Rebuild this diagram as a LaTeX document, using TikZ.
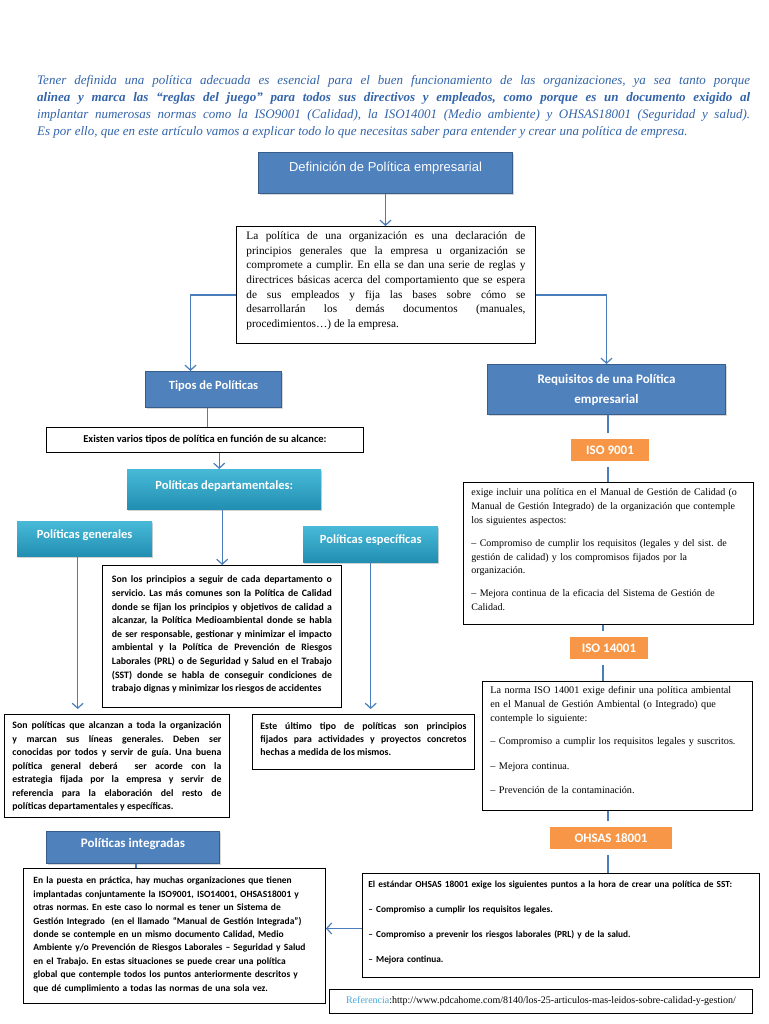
\documentclass[tikz,border=0pt]{standalone}
\usepackage{fontspec}
\setmainfont{Liberation Serif}
\newfontfamily\calibri{Carlito}
\newfontfamily\arialf{Liberation Sans}
\usetikzlibrary{arrows.meta,shadows}
\frenchspacing

\definecolor{azulfondo}{RGB}{79,129,189}
\definecolor{azulborde}{RGB}{56,93,138}
\definecolor{azullinea}{RGB}{74,126,187}
\definecolor{azultexto}{RGB}{50,100,170}
\definecolor{cianclaro}{RGB}{72,186,216}
\definecolor{cianoscuro}{RGB}{33,142,178}
\definecolor{naranja}{RGB}{247,150,70}
\definecolor{cianref}{RGB}{70,170,220}

\tikzset{
  cajaazul/.style={draw=azulborde, fill=azulfondo, line width=1pt, text=white,
    inner sep=0pt, anchor=north west,
    drop shadow={opacity=0.3, shadow xshift=1.5pt, shadow yshift=-1.5pt}},
  cajacian/.style={top color=cianclaro, bottom color=cianoscuro, text=white,
    inner sep=0pt, anchor=north west,
    drop shadow={opacity=0.35, shadow xshift=1pt, shadow yshift=-2pt}},
  cajanaranja/.style={fill=naranja, draw=white, line width=6pt, text=white,
    inner sep=0pt, minimum height=28pt,
    font=\calibri\bfseries\fontsize{13}{15}\selectfont,
    drop shadow={opacity=0.3, shadow xshift=1pt, shadow yshift=-2pt}},
  cajatexto/.style={draw=black, fill=white, line width=0.9pt, anchor=north west,
    inner ysep=0pt},
  enlace/.style={draw=azullinea, line width=1.2pt},
  flecha/.style={enlace, -{Straight Barb[length=5pt,width=11pt,line width=1.2pt]}},
}

\begin{document}
\begin{tikzpicture}[x=1pt,y=-1pt]
    % Fond et cadre
    \fill[white] (0,0) rectangle (768,1024);
    \useasboundingbox (0,0) rectangle (768,1024);

    % Introduction
    \node[anchor=north west, inner sep=0pt, text width=713pt, text height=14pt,
      align=justify, text=azultexto, font=\itshape\fontsize{13}{17}\selectfont]
      (intro) at (37,70) {Tener definida una política adecuada es esencial para el buen funcionamiento de las organizaciones, ya sea tanto porque\linebreak
      {\bfseries alinea y marca las “reglas del juego” para todos sus directivos y empleados, como porque es un documento exigido al}\linebreak
      implantar numerosas normas como la ISO9001 (Calidad), la ISO14001 (Medio ambiente) y OHSAS18001 (Seguridad y salud).\linebreak
      Es por ello, que en este artículo vamos a explicar todo lo que necesitas saber para entender y crear una política de empresa.};

    % Définition
    \node[cajaazul, minimum width=254pt, text height=19pt, text depth=22pt,
      font=\arialf\fontsize{13}{15}\selectfont] (titulo) at (258,152)
      {Definición de Política empresarial};
    \node[cajatexto, inner xsep=10pt, text width=279pt, text height=13pt,
      text depth=104pt, align=justify, font=\fontsize{11.3}{14.7}\selectfont]
      (definicion) at (236,226) {La política de una organización es una declaración de\linebreak
      principios generales que la empresa u organización se\linebreak
      compromete a cumplir. En ella se dan una serie de reglas y\linebreak
      directrices básicas acerca del comportamiento que se espera\linebreak
      de sus empleados y fija las bases sobre cómo se\linebreak
      desarrollarán los demás documentos (manuales,\linebreak
      procedimientos…) de la empresa.};

    % Colonne de gauche
    \node[cajaazul, minimum width=136pt, text height=18pt, text depth=18pt,
      font=\calibri\bfseries\fontsize{12.5}{15}\selectfont] (tipos) at (145,371)
      {Tipos de Políticas};
    \node[cajatexto, inner xsep=0pt, minimum width=317pt, minimum height=25pt,
      font=\calibri\bfseries\fontsize{10.5}{12}\selectfont] (existen) at (46,427)
      {Existen varios tipos de política en función de su alcance:};
    \node[cajacian, minimum width=194pt, text height=20pt, text depth=20pt,
      font=\calibri\bfseries\fontsize{12.5}{15}\selectfont] (depto) at (127,469)
      {Políticas departamentales:};
    \node[cajacian, minimum width=135pt, text height=17pt, text depth=18pt,
      font=\calibri\bfseries\fontsize{12.5}{15}\selectfont] (generales) at (17,521)
      {Políticas generales};
    \node[cajacian, minimum width=135pt, text height=17pt, text depth=19pt,
      font=\calibri\bfseries\fontsize{12.5}{15}\selectfont] (especificas) at (303,526)
      {Políticas específicas};

    \node[cajatexto, inner xsep=9.5pt, text width=220pt, text height=17.5pt,
      text depth=124.5pt, align=justify, font=\calibri\bfseries\fontsize{9.8}{13.6}\selectfont]
      (deptotxt) at (102,565) {Son los principios a seguir de cada departamento o\linebreak
      servicio. Las más comunes son la Política de Calidad\linebreak
      donde se fijan los principios y objetivos de calidad a\linebreak
      alcanzar, la Política Medioambiental donde se habla\linebreak
      de ser responsable, gestionar y minimizar el impacto\linebreak
      ambiental y la Política de Prevención de Riesgos\linebreak
      Laborales (PRL) o de Seguridad y Salud en el Trabajo\linebreak
      (SST) donde se habla de conseguir condiciones de\linebreak
      trabajo dignas y minimizar los riesgos de accidentes};
    \node[cajatexto, inner xsep=8pt, text width=209pt, text height=14.5pt,
      text depth=88.5pt, align=justify, font=\calibri\bfseries\fontsize{9.8}{13.5}\selectfont]
      (generalestxt) at (4,714) {Son políticas que alcanzan a toda la organización\linebreak
      y marcan sus líneas generales. Deben ser\linebreak
      conocidas por todos y servir de guía. Una buena\linebreak
      política general deberá \ ser acorde con la\linebreak
      estrategia fijada por la empresa y servir de\linebreak
      referencia para la elaboración del resto de\linebreak
      políticas departamentales y específicas.};
    \node[cajatexto, inner xsep=8pt, text width=206pt, text height=15.5pt,
      text depth=39.5pt, align=justify, font=\calibri\bfseries\fontsize{9.8}{13}\selectfont]
      (especificastxt) at (252,714) {Este último tipo de políticas son principios\linebreak
      fijados para actividades y proyectos concretos\linebreak
      hechas a medida de los mismos.};

    \node[cajaazul, minimum width=173pt, text height=16pt, text depth=16pt,
      font=\calibri\bfseries\fontsize{13}{15}\selectfont] (integradas) at (46,831)
      {Políticas integradas};
    \node[cajatexto, inner xsep=10pt, text width=282pt, text height=15.5pt,
      text depth=119.5pt, align=left, font=\calibri\bfseries\fontsize{9.5}{13.4}\selectfont]
      (integradastxt) at (23,868) {En la puesta en práctica, hay muchas organizaciones que tienen\\
      implantadas conjuntamente la ISO9001, ISO14001, OHSAS18001 y\\
      otras normas. En este caso lo normal es tener un Sistema de\\
      Gestión Integrado \ (en el llamado “Manual de Gestión Integrada”)\\
      donde se contemple en un mismo documento Calidad, Medio\\
      Ambiente y/o Prevención de Riesgos Laborales – Seguridad y Salud\\
      en el Trabajo. En estas situaciones se puede crear una política\\
      global que contemple todos los puntos anteriormente descritos y\\
      que dé cumplimiento a todas las normas de una sola vez.};

    % Colonne de droite
    \node[cajaazul, minimum width=238pt, minimum height=50pt, align=center,
      font=\calibri\bfseries\fontsize{13}{20}\selectfont] (requisitos) at (487,364)
      {Requisitos de una Política\\empresarial};
    \node[cajanaranja, minimum width=84pt] (iso9001) at (610,450) {ISO 9001};
    \node[cajatexto, inner xsep=8pt, text width=274pt, text height=13.5pt,
      text depth=128.5pt, align=left, font=\fontsize{10}{13.8}\selectfont]
      (iso9001txt) at (463,482) {exige incluir una política en el Manual de Gestión de Calidad (o\\
      Manual de Gestión Integrado) de la organización que contemple\\
      los siguientes aspectos:\\[9pt]
      – Compromiso de cumplir los requisitos (legales y del sist. de\\
      gestión de calidad) y los compromisos fijados por la\\
      organización.\\[9pt]
      – Mejora continua de la eficacia del Sistema de Gestión de\\
      Calidad.};
    \node[cajanaranja, minimum width=84pt] (iso14001) at (609,648) {ISO 14001};
    \node[cajatexto, inner xsep=8pt, text width=254pt, text height=12.5pt,
      text depth=116.5pt, align=left, font=\fontsize{10.2}{14}\selectfont]
      (iso14001txt) at (482,681) {La norma ISO 14001 exige definir una política ambiental\\
      en el Manual de Gestión Ambiental (o Integrado) que\\
      contemple lo siguiente:\\[9pt]
      – Compromiso a cumplir los requisitos legales y suscritos.\\[11pt]
      – Mejora continua.\\[10pt]
      – Prevención de la contaminación.};
    \node[cajanaranja, minimum width=128pt] (ohsas) at (611,838) {OHSAS 18001};
    \node[cajatexto, inner xsep=6pt, text width=385pt, text height=14.5pt,
      text depth=89.5pt, align=left, font=\calibri\bfseries\fontsize{9.3}{13}\selectfont]
      (ohsastxt) at (362,873) {El estándar OHSAS 18001 exige los siguientes puntos a la hora de crear una política de SST:\\[12pt]
      – Compromiso a cumplir los requisitos legales.\\[12pt]
      – Compromiso a prevenir los riesgos laborales (PRL) y de la salud.\\[12pt]
      – Mejora continua.};

    % Référence
    \node[cajatexto, inner xsep=0pt, minimum width=423pt, minimum height=24pt,
      font=\fontsize{10}{12}\selectfont] (referencia) at (329,989)
      {\textcolor{cianref}{Referencia}:http://www.pdcahome.com/8140/los-25-articulos-mas-leidos-sobre-calidad-y-gestion/};

    % Liaisons
    \draw[flecha] (titulo.south) -- (titulo.south |- definicion.north);
    \draw[flecha] ([yshift=-10pt]definicion.west) -| ([xshift=-23pt]tipos.north);
    \draw[flecha] ([yshift=-10pt]definicion.east) -| (requisitos.north);
    \draw[enlace] ([xshift=-6pt]tipos.south) -- ([xshift=-6pt]tipos.south |- existen.north);
    \draw[flecha] ([xshift=-5pt]depto.north |- existen.south) -- ([xshift=-5pt]depto.north);
    \draw[flecha] ([xshift=-2pt]depto.south) -- ([xshift=-2pt]depto.south |- deptotxt.north);
    \draw[flecha, shorten >=5pt] ([xshift=-7pt]generales.south) -- ([xshift=-7pt]generales.south |- generalestxt.north);
    \draw[flecha, shorten >=5pt] (especificas.south) -- (especificas.south |- especificastxt.north);
    \draw[enlace] ([xshift=3pt]integradas.south) -- ([xshift=3pt]integradas.south |- integradastxt.north);

    \draw[enlace] ([xshift=-2pt]iso9001.north |- requisitos.south) -- ([xshift=-2pt]iso9001.north);
    \draw[enlace] ([xshift=-2pt]iso9001.south) -- ([xshift=-2pt]iso9001.south |- iso9001txt.north);
    \draw[enlace] ([xshift=-6pt]iso14001.north |- iso9001txt.south) -- ([xshift=-6pt]iso14001.north);
    \draw[enlace] ([xshift=-6pt]iso14001.south) -- ([xshift=-6pt]iso14001.south |- iso14001txt.north);
    \draw[enlace] ([xshift=-3pt]ohsas.north |- iso14001txt.south) -- ([xshift=-3pt]ohsas.north);
    \draw[enlace] ([xshift=-3pt]ohsas.south) -- ([xshift=-3pt]ohsas.south |- ohsastxt.north);
    \draw[flecha] ([yshift=-3pt]ohsastxt.west) -- ([yshift=-3pt]ohsastxt.west -| integradastxt.east);

\end{tikzpicture}
\end{document}
